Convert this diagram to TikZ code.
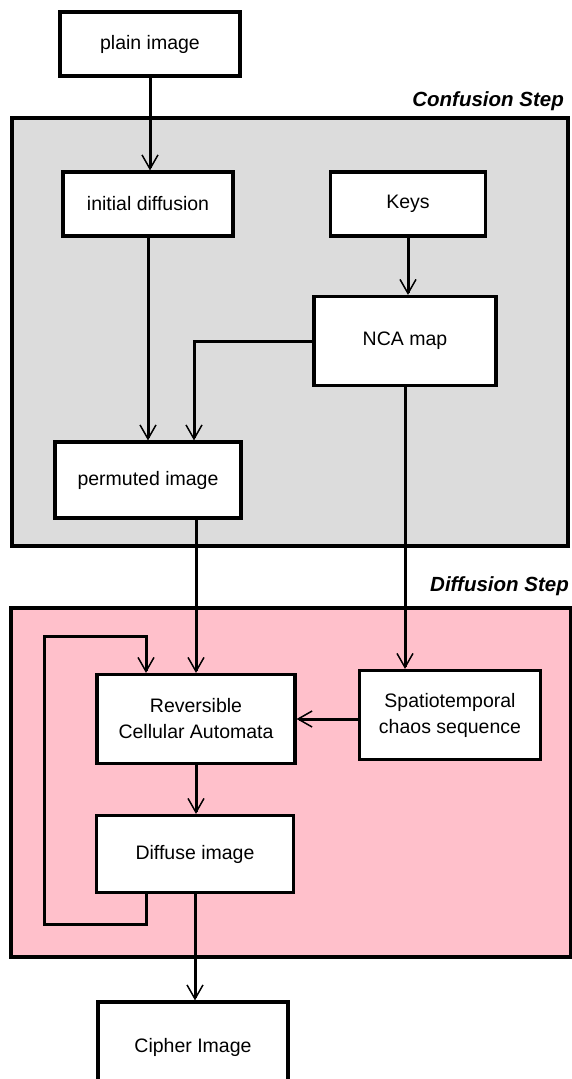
\documentclass[tikz,border=0pt]{standalone}
\usepackage{fontspec}
\setmainfont{Liberation Sans}
\usetikzlibrary{arrows.meta}
\definecolor{confgray}{HTML}{DCDCDC}
\definecolor{diffpink}{HTML}{FFC0CB}
\tikzset{
  box/.style={draw=black, fill=white, line width=3.2pt, align=center, inner sep=0pt,
    font=\fontsize{19.5}{26}\selectfont},
  conn/.style={line width=3pt, line join=miter, -{Straight Barb[length=14pt,width=16pt,line width=1.5pt]}},
  region/.style={draw=black, line width=3.2pt},
  steplabel/.style={font=\fontsize{20.5}{22}\selectfont\bfseries\itshape, anchor=east, inner sep=0pt}
}
\begin{document}
\begin{tikzpicture}[x=1pt,y=-1pt]
\useasboundingbox (0,0) rectangle (572,1079);
\begin{scope}
\clip (0,0) rectangle (572,1079);
% regions
\draw[region, fill=confgray] (12,118) rectangle (568,546);
\node[steplabel] (conflabel) at (564,101) {Confusion Step};
\draw[region, fill=diffpink] (11,608) rectangle (571,957);
\node[steplabel] (difflabel) at (569,586) {Diffusion Step};

% nodes
\node[box, minimum width=180pt, minimum height=64pt] (plain) at (150,44) {plain image};
\node[box, minimum width=170pt, minimum height=64pt] (initdiff) at (148,204) {initial diffusion};
\node[box, minimum width=155pt, minimum height=64pt] (keys) at (408,204) {Keys};
\node[box, minimum width=182pt, minimum height=89pt] (nca) at (405,341) {NCA map};
\node[box, minimum width=186pt, minimum height=76pt] (perm) at (148,480) {permuted image};
\node[box, minimum width=198pt, minimum height=89pt] (rca) at (196,719) {Reversible\\Cellular Automata};
\node[box, minimum width=181pt, minimum height=89pt] (spatio) at (450,715) {Spatiotemporal\\chaos sequence};
\node[box, minimum width=197pt, minimum height=77pt] (diffuse) at (195,854) {Diffuse image};
\node[box, minimum width=190pt, minimum height=90pt] (cipher) at (193,1047) {Cipher Image};

\coordinate (permin) at ([xshift=46pt]perm.north);
\coordinate (loopout) at ([xshift=-49pt]diffuse.south);
\coordinate (loopin) at ([xshift=-50pt]rca.north);
\coordinate (loopbl) at (44.5,924);
\coordinate (looptl) at (44.5,636);

% connectors
\draw[conn] (plain.south) -- (plain.south |- initdiff.north);
\draw[conn] (initdiff.south) -- (initdiff.south |- perm.north);
\draw[conn] (keys.south) -- (keys.south |- nca.north);
\draw[conn] (nca.west) -| (permin);
\draw[conn] (nca.south) -- (nca.south |- spatio.north);
\draw[conn] (rca.north |- perm.south) -- (rca.north);
\draw[conn] (rca.east -| spatio.west) -- (rca.east);
\draw[conn] (rca.south) -- (rca.south |- diffuse.north);
\draw[conn] (diffuse.south) -- (diffuse.south |- cipher.north);
\draw[conn] (loopout) |- (loopbl) -- (looptl) -| (loopin);
\end{scope}
\end{tikzpicture}
\end{document}
